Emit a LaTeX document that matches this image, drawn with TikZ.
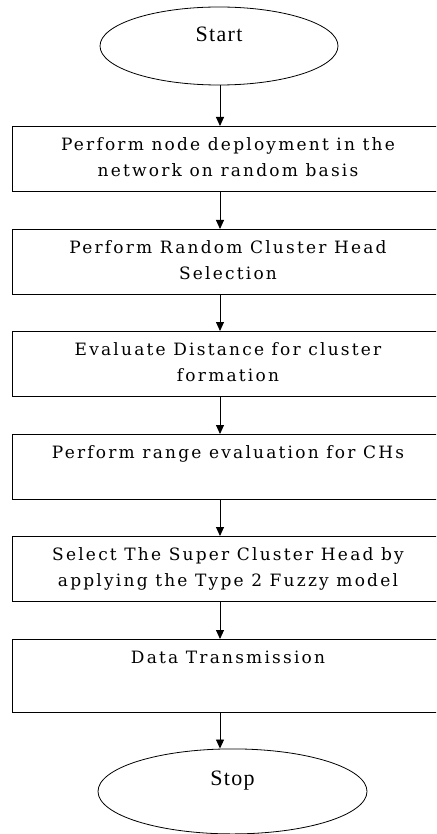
\documentclass[tikz,border=0pt]{standalone}
\usepackage{fontspec}
\setmainfont{DejaVu Serif}
\newfontfamily\termfont{Liberation Serif}[LetterSpace=6]
\newfontfamily\stepfont{DejaVu Serif}[LetterSpace=13]
\usepackage{tikz}
\usetikzlibrary{shapes.geometric}
\usetikzlibrary{arrows.meta}
\tikzset{term/.style={draw, ellipse, line width=0.8pt, inner sep=0pt,
   font=\termfont\fontsize{22pt}{26pt}\selectfont, text height=13pt},
 procbox/.style={draw, rectangle, line width=0.8pt, inner sep=0pt, anchor=north,
   font=\stepfont\fontsize{17pt}{26pt}\selectfont},
 flow/.style={line width=0.9pt, -{Triangle[length=9pt,width=8pt]}},
 }
\newcommand{\boxtxt}[2]{\parbox[c][#1][t]{432pt}{\centering\vspace*{6pt}\strut #2}}

\begin{document}
\begin{tikzpicture}[x=1pt,y=-1pt]
        \useasboundingbox (0,0) rectangle (436,834);
        \clip (0,0) rectangle (436,834);
        \coordinate (spine) at (220,0);
        \node[term, minimum width=238pt, minimum height=78pt, text depth=21pt] (start) at (219,46) {Start};
        \node[procbox] (deploy) at (228,126) {\boxtxt{65pt}{Perform node deployment in the\\network on random basis}};
        \node[procbox] (chsel) at (228,229) {\boxtxt{65pt}{Perform Random Cluster Head\\Selection}};
        \node[procbox] (dist) at (228,331) {\boxtxt{65pt}{Evaluate Distance for cluster\\formation}};
        \node[procbox] (range) at (228,434) {\boxtxt{65pt}{Perform range evaluation for CHs}};
        \node[procbox] (super) at (228,536) {\boxtxt{65pt}{Select The Super Cluster Head by\\applying the Type 2 Fuzzy model}};
        \node[procbox] (trans) at (228,639) {\boxtxt{73pt}{Data Transmission}};
        \node[term, minimum width=269pt, minimum height=85pt, text depth=25pt] (stop) at (232.5,791.4) {Stop};
        \draw[flow] (start.south -| spine) -- (deploy.north -| spine);
        \draw[flow] (deploy.south -| spine) -- (chsel.north -| spine);
        \draw[flow] (chsel.south -| spine) -- (dist.north -| spine);
        \draw[flow] (dist.south -| spine) -- (range.north -| spine);
        \draw[flow] (range.south -| spine) -- (super.north -| spine);
        \draw[flow] (super.south -| spine) -- (trans.north -| spine);
        \draw[flow] (trans.south -| spine) -- (stop.north -| spine);
    \end{tikzpicture}
\end{document}
